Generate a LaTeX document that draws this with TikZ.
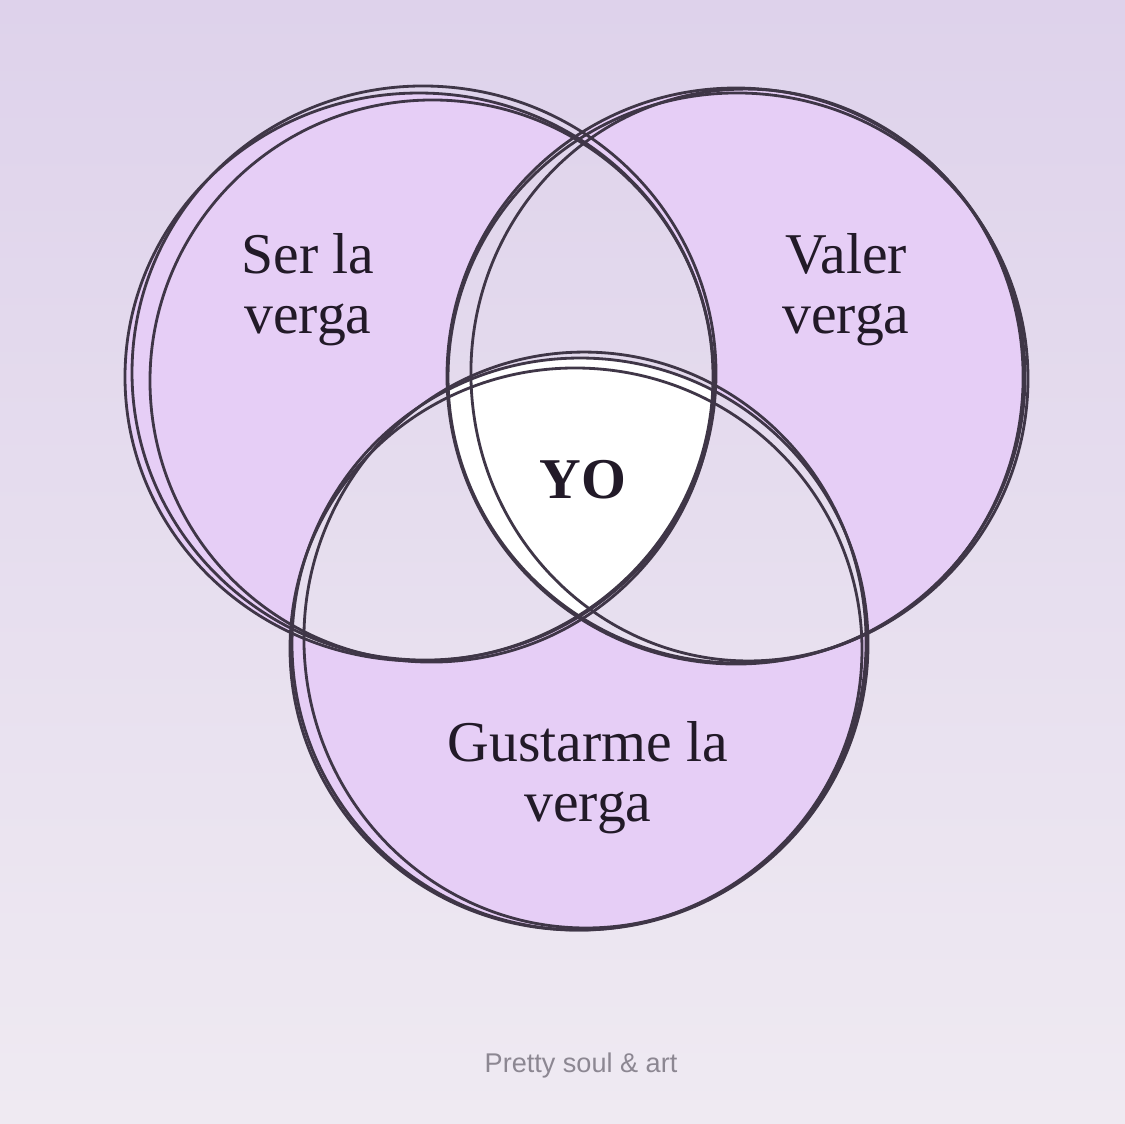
\documentclass[tikz,border=0pt]{standalone}
\usepackage{fontspec}
\setmainfont{Liberation Serif}
\setsansfont{Liberation Sans}
\usetikzlibrary{positioning}

\definecolor{bgtop}{HTML}{DED2EB}
\definecolor{bgbot}{HTML}{EFEAF2}
\definecolor{lilac}{HTML}{E6CEF6}
\definecolor{pencil}{HTML}{3F3647}
\definecolor{ink}{HTML}{221A28}
\definecolor{credit}{HTML}{8C8792}

% the three sets (pixel units, y down)
\newcommand{\ringSer}{(419,377) ellipse [x radius=294, y radius=284]}
\newcommand{\ringValer}{(736,376) ellipse [x radius=289, y radius=288]}
\newcommand{\ringGusto}{(580,644) ellipse [x radius=288, y radius=286]}

\begin{document}
\begin{tikzpicture}[
    x=0.01cm, y=-0.01cm,
    paper/.style={top color=bgtop, bottom color=bgbot},
    setfill/.style={fill=lilac},
    stroke/.style={draw=pencil, line width=0.8pt},
    tag/.style={font=\fontsize{16.4}{17.1}\selectfont, text=ink, align=center, inner sep=0pt}
]
\useasboundingbox (0,0) rectangle (1125,1123);

% Background
\path[paper] (0,0) rectangle (1125,1123);

% Sets
\fill[setfill] \ringSer;
\fill[setfill] \ringValer;
\fill[setfill] \ringGusto;

% Pairwise overlaps back to paper
\begin{scope}
  \clip \ringSer;
  \clip \ringValer;
  \path[paper] (0,0) rectangle (1125,1123);
\end{scope}
\begin{scope}
  \clip \ringSer;
  \clip \ringGusto;
  \path[paper] (0,0) rectangle (1125,1123);
\end{scope}
\begin{scope}
  \clip \ringValer;
  \clip \ringGusto;
  \path[paper] (0,0) rectangle (1125,1123);
\end{scope}

% Centre
\begin{scope}
  \clip \ringSer;
  \clip \ringValer;
  \fill[white] \ringGusto;
\end{scope}

% Sketchy outlines
\draw[stroke] \ringSer;
\draw[stroke] (432,381) ellipse [x radius=282, y radius=281, rotate=6];
\draw[stroke] (424,373) ellipse [x radius=292, y radius=287, rotate=-4];

\draw[stroke] \ringValer;
\draw[stroke] (747,375) ellipse [x radius=276, y radius=286, rotate=5];
\draw[stroke] (738,378) ellipse [x radius=290, y radius=285, rotate=-5];

\draw[stroke] \ringGusto;
\draw[stroke] (585,640) ellipse [x radius=281, y radius=288, rotate=5];
\draw[stroke] (576,649) ellipse [x radius=286, y radius=281, rotate=-4];

% Labels
\node[tag] (ser) at (308,290) {Ser la\\verga};
\node[tag] (valer) at (846,290) {Valer\\verga};
\node[tag] (gustar) at (588,778) {Gustarme la\\verga};
\node[tag, font=\fontsize{16.4}{17.1}\selectfont\bfseries] (yo) at (583,480) {YO};
\node[font=\sffamily\fontsize{7.7}{9}\selectfont, text=credit] (credit) at (581,1065) {Pretty soul \& art};

\end{tikzpicture}
\end{document}
